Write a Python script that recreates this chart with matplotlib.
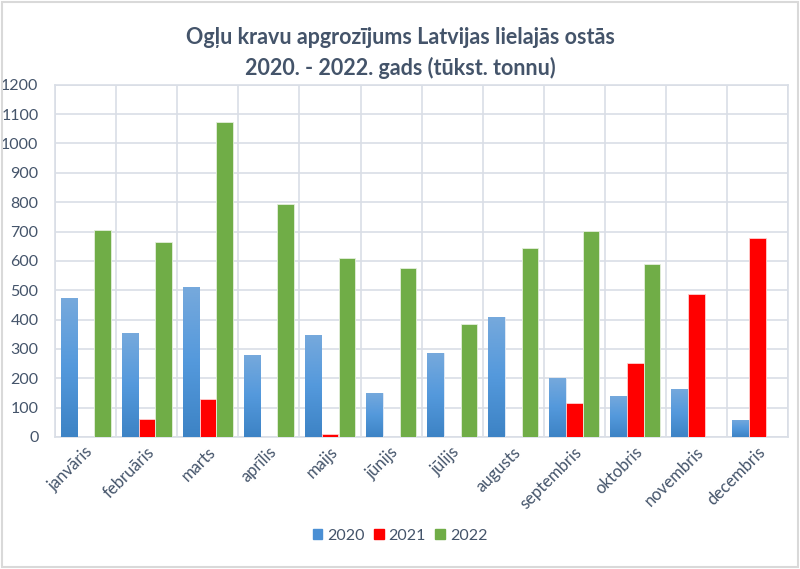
import numpy as np
import matplotlib
matplotlib.use("Agg")
import matplotlib.pyplot as plt
from matplotlib.colors import LinearSegmentedColormap
from matplotlib.patches import Rectangle, Patch

months = ["janvāris", "februāris", "marts", "aprīlis", "maijs", "jūnijs",
          "jūlijs", "augusts", "septembris", "oktobris", "novembris", "decembris"]
years = ["2020", "2021", "2022"]
v2020 = [473, 353, 510, 280, 347, 151, 285, 410, 202, 141, 164, 58]
v2021 = [0, 62, 129, 0, 10, 0, 0, 0, 116, 251, 488, 677]
v2022 = [706, 665, 1074, 793, 611, 575, 386, 645, 703, 589, 0, 0]

plt.rcParams['font.family'] = ['Lato', 'DejaVu Sans']
txt = '#44546a'
grid_c = '#d9dee6'

fig = plt.figure(figsize=(8, 5.69), dpi=100)
fig.patches.append(Rectangle((0.002, 0.003), 0.996, 0.994, transform=fig.transFigure,
                             fill=False, edgecolor='#d9d9d9', lw=1.5))
ax = fig.add_axes([0.069, 0.232, 0.916, 0.619])

x = np.arange(len(months))
w = 0.27
step = 0.275
b1 = ax.bar(x - step, v2020, w, color='#4f93d6', edgecolor='#e8eef6', lw=0.6, zorder=3)
b2 = ax.bar(x, v2021, w, color='#ff0000', edgecolor='#ffd0d0', lw=0.6, zorder=3)
b3 = ax.bar(x + step, v2022, w, color='#70ad47', edgecolor='#e4efdc', lw=0.6, zorder=3)

# gradient fill on the 2020 bars
cmap = LinearSegmentedColormap.from_list('bl', ['#3d83c5', '#5499dc', '#76a9dc'])
grad = np.linspace(0, 1, 100).reshape(-1, 1)
for b in b1:
    bx, bw, bh = b.get_x(), b.get_width(), b.get_height()
    if bh <= 0:
        continue
    im = ax.imshow(grad, extent=[bx, bx + bw, 0, bh], origin='lower', aspect='auto',
                   cmap=cmap, zorder=3.5)
    im.set_clip_path(b)

ax.set_xlim(-0.5, 11.5)
ax.set_ylim(0, 1200)
ax.set_yticks(range(0, 1201, 100))
ax.set_xticks(x + 0.08)
ax.set_xticks(np.arange(-0.5, 12, 1), minor=True)
ax.set_xticklabels(months, rotation=45, ha='right', va='center', rotation_mode='anchor',
                   fontsize=12, color=txt)
ax.tick_params(axis='x', which='both', length=0, pad=9)
ax.tick_params(axis='y', length=0, pad=12, labelsize=11.5, labelcolor=txt)
ax.grid(axis='y', color=grid_c, lw=1.2, zorder=0)
ax.grid(axis='x', which='minor', color=grid_c, lw=1.2, zorder=0)
for s in ax.spines.values():
    s.set_color(grid_c)
    s.set_linewidth(1.2)

fig.suptitle("Ogļu kravu apgrozījums Latvijas lielajās ostās\n2020. - 2022. gads (tūkst. tonnu)",
             y=0.952, fontsize=15.5, fontweight='bold', color=txt, linespacing=1.5)

handles = [Patch(color='#4a8fd4'), Patch(color='#ff0000'), Patch(color='#70ad47')]
fig.legend(handles, years, loc='center', bbox_to_anchor=(0.5, 0.058), ncol=3, frameon=False,
           fontsize=11.5, labelcolor=txt, handlelength=0.6, handleheight=0.6,
           handletextpad=0.3, columnspacing=0.6)

fig.savefig("out.png", dpi=100)
